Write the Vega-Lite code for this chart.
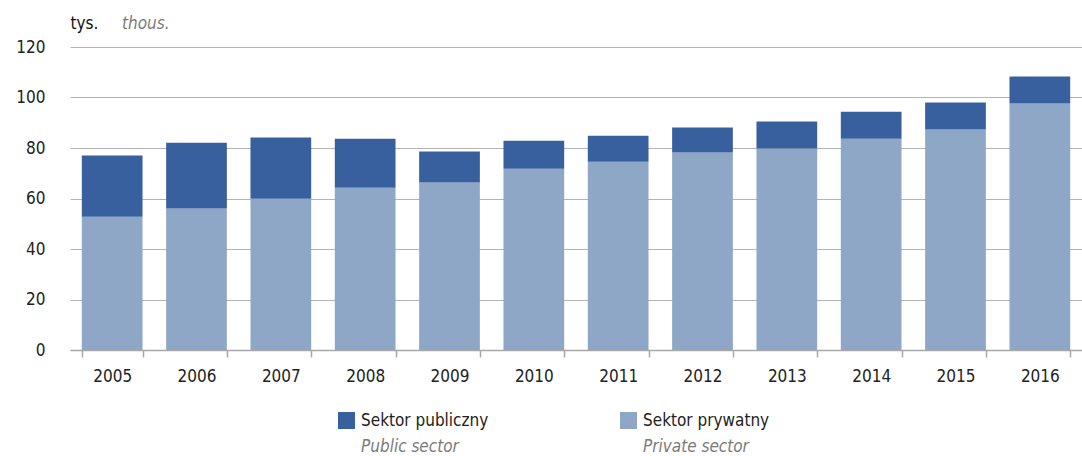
{
  "$schema": "https://vega.github.io/schema/vega-lite/v6.json",
  "autosize": {"type": "none"},
  "padding": {"left": 70, "top": 47, "right": 0, "bottom": 106},
  "width": 1012,
  "height": 303,
  "background": "white",
  "title": {"text": "thous.", "anchor": "start", "frame": "group", "dx": 52, "offset": -19, "font": "DejaVu Sans Condensed", "fontSize": 17, "fontStyle": "italic", "fontWeight": "normal", "color": "#7a7a7a"},
  "config": {
    "view": {"stroke": null},
    "font": "DejaVu Sans Condensed"
  },
  "data": {"values": [
    {"year": "2005", "sector": "Sektor prywatny", "en": "Private sector", "value": 52.8},
    {"year": "2005", "sector": "Sektor publiczny", "en": "Public sector", "value": 24.2},
    {"year": "2006", "sector": "Sektor prywatny", "en": "Private sector", "value": 56.0},
    {"year": "2006", "sector": "Sektor publiczny", "en": "Public sector", "value": 26.1},
    {"year": "2007", "sector": "Sektor prywatny", "en": "Private sector", "value": 59.9},
    {"year": "2007", "sector": "Sektor publiczny", "en": "Public sector", "value": 24.3},
    {"year": "2008", "sector": "Sektor prywatny", "en": "Private sector", "value": 64.3},
    {"year": "2008", "sector": "Sektor publiczny", "en": "Public sector", "value": 19.4},
    {"year": "2009", "sector": "Sektor prywatny", "en": "Private sector", "value": 66.3},
    {"year": "2009", "sector": "Sektor publiczny", "en": "Public sector", "value": 12.3},
    {"year": "2010", "sector": "Sektor prywatny", "en": "Private sector", "value": 71.8},
    {"year": "2010", "sector": "Sektor publiczny", "en": "Public sector", "value": 11.1},
    {"year": "2011", "sector": "Sektor prywatny", "en": "Private sector", "value": 74.6},
    {"year": "2011", "sector": "Sektor publiczny", "en": "Public sector", "value": 10.3},
    {"year": "2012", "sector": "Sektor prywatny", "en": "Private sector", "value": 78.2},
    {"year": "2012", "sector": "Sektor publiczny", "en": "Public sector", "value": 9.9},
    {"year": "2013", "sector": "Sektor prywatny", "en": "Private sector", "value": 79.8},
    {"year": "2013", "sector": "Sektor publiczny", "en": "Public sector", "value": 10.7},
    {"year": "2014", "sector": "Sektor prywatny", "en": "Private sector", "value": 83.7},
    {"year": "2014", "sector": "Sektor publiczny", "en": "Public sector", "value": 10.7},
    {"year": "2015", "sector": "Sektor prywatny", "en": "Private sector", "value": 87.3},
    {"year": "2015", "sector": "Sektor publiczny", "en": "Public sector", "value": 10.7},
    {"year": "2016", "sector": "Sektor prywatny", "en": "Private sector", "value": 97.6},
    {"year": "2016", "sector": "Sektor publiczny", "en": "Public sector", "value": 10.7}
  ]},
  "mark": {"type": "bar"},
  "encoding": {
    "x": {
      "field": "year", "type": "ordinal",
      "scale": {"paddingInner": 0.28, "paddingOuter": 0.14},
      "axis": {
        "title": null, "labelAngle": 0, "labelFontSize": 17, "labelColor": "#222222",
        "labelPadding": 11, "domainColor": "#a8a8a8", "domainWidth": 1.5,
        "tickColor": "#a8a8a8", "tickWidth": 1.5, "tickSize": 7, "tickBand": "extent", "grid": false
      }
    },
    "y": {
      "field": "value", "type": "quantitative", "stack": "zero",
      "scale": {"domain": [0, 120]},
      "axis": {
        "values": [0, 20, 40, 60, 80, 100, 120],
        "title": "tys.", "titleAngle": 0, "titleAlign": "left", "titleBaseline": "middle",
        "titleX": 0, "titleY": -24, "titleFontSize": 17, "titleFontWeight": "normal", "titleColor": "#111111",
        "labelFontSize": 17, "labelColor": "#222222", "labelPadding": 25,
        "ticks": false, "tickSize": 0, "domain": false,
        "grid": true, "gridColor": "#b4b4b4", "gridWidth": 1.2
      }
    },
    "order": {"field": "sector", "sort": "ascending"},
    "color": {
      "field": "sector", "type": "nominal",
      "scale": {"domain": ["Sektor publiczny", "Sektor prywatny"], "range": ["#38609e", "#8ea7c6"]},
      "legend": {
        "title": null, "orient": "none", "direction": "horizontal",
        "legendX": 268, "legendY": 365,
        "symbolType": "square", "symbolSize": 289, "symbolStrokeWidth": 0,
        "labelFontSize": 17, "labelColor": "#222222", "labelOffset": 6,
        "columnPadding": 131
      }
    },
    "opacity": {
      "field": "en", "type": "nominal",
      "scale": {"type": "ordinal", "domain": ["Public sector", "Private sector"], "range": [1, 1]},
      "legend": {
        "title": null, "orient": "none", "direction": "horizontal",
        "legendX": 268, "legendY": 391,
        "symbolType": "square", "symbolSize": 289, "symbolFillColor": "#ffffff", "symbolStrokeColor": "#ffffff", "symbolStrokeWidth": 0,
        "labelFontSize": 17, "labelFontStyle": "italic", "labelColor": "#7a7a7a", "labelOffset": 6,
        "columnPadding": 161
      }
    }
  }
}
